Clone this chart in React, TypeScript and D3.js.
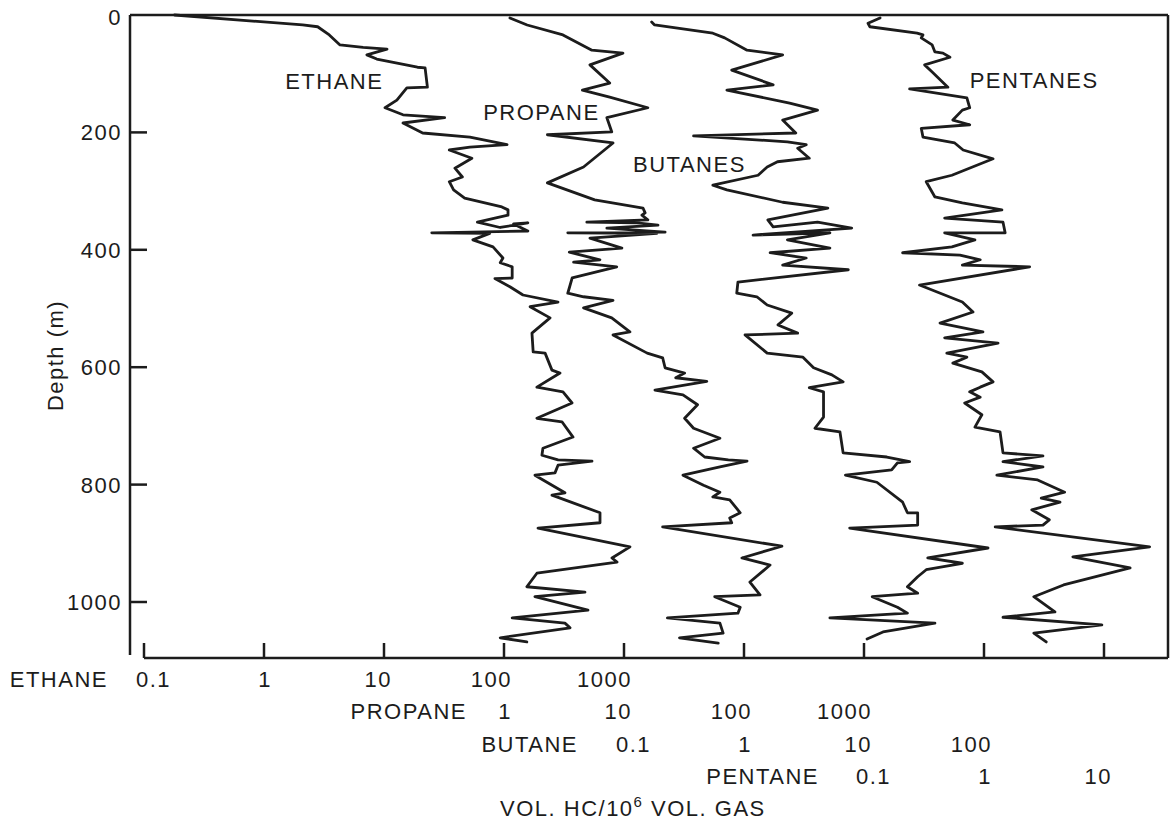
import React, { useEffect, useRef } from 'react';
import * as d3 from 'd3';

// [depth (m), vol. HC / 10^6 vol. gas]
const ethane: [number, number][] = [
  [0, 0.18], [17, 2.1], [20, 2.8], [34, 3.5], [51, 4.3], [55, 6.7], [58, 10.6], [68, 7.2], [75, 8.7],
  [89, 19], [90, 22], [123, 23], [124, 15.5], [145, 12.8], [158, 10.2], [170, 14.4], [175, 32], [184, 14.4],
  [201, 21], [208, 52], [221, 106], [225, 52], [230, 35], [244, 54], [261, 39], [276, 45], [284, 35],
  [298, 38], [312, 47], [327, 96], [332, 108], [341, 108], [353, 60], [362, 93], [354, 158], [356, 120],
  [368, 158], [371, 25], [372, 76], [383, 55], [395, 81], [414, 98], [422, 93], [429, 117], [448, 117],
  [449, 84], [463, 112], [477, 144], [489, 282], [497, 165], [516, 242], [542, 171], [574, 175], [576, 220],
  [605, 251], [610, 293], [634, 188], [642, 310], [661, 369], [687, 188], [693, 304], [719, 376], [738, 211],
  [750, 207], [758, 282], [760, 541], [767, 282], [780, 266], [784, 181], [814, 322], [818, 251], [848, 631],
  [865, 631], [874, 192], [906, 1122], [925, 794], [932, 875], [951, 188], [974, 155], [983, 473], [991, 181],
  [1014, 501], [1027, 117], [1036, 322], [1044, 355], [1061, 93], [1068, 155],
];

const propane: [number, number][] = [
  [5, 1.12], [17, 1.56], [34, 3.1], [60, 5.4], [65, 9.8], [85, 5.2], [116, 7.6], [128, 4.5], [140, 7.6],
  [158, 15.8], [175, 7.2], [199, 7.9], [204, 2.3], [218, 8.1], [259, 4.6], [286, 2.3], [315, 5.7], [329, 14.4],
  [337, 15], [341, 14.1], [349, 15.8], [353, 4.9], [354, 12.8], [358, 19.2], [363, 7.2], [370, 22], [371, 3.4],
  [372, 18.8], [380, 5.2], [397, 9.6], [404, 3.5], [417, 6.3], [421, 3.8], [429, 8.7], [448, 3.7], [474, 3.4],
  [480, 4.6], [486, 8.1], [499, 4.6], [516, 7.9], [540, 11.2], [545, 8.1], [576, 15.6], [584, 21], [601, 22],
  [610, 32], [618, 27], [624, 49], [639, 18.1], [647, 31], [664, 41], [687, 32], [704, 38], [721, 63],
  [738, 38], [753, 47], [758, 74], [760, 106], [770, 63], [784, 31], [801, 46], [813, 63], [821, 55],
  [826, 76], [848, 93], [857, 76], [865, 79], [872, 21], [905, 207], [925, 96], [937, 165], [966, 112],
  [988, 136], [991, 57], [1009, 93], [1019, 89], [1027, 23], [1036, 63], [1053, 67], [1061, 29], [1070, 61],
];

const butane: [number, number][] = [
  [12, 0.17], [17, 0.18], [31, 0.55], [39, 0.69], [60, 1.06], [68, 2.1], [94, 0.79], [119, 1.75], [128, 0.72],
  [150, 2.4], [162, 4.1], [179, 2.1], [201, 2.7], [206, 0.38], [216, 2.3], [221, 3.3], [227, 2.8], [244, 3.5],
  [250, 1.9], [259, 1.56], [273, 1.31], [290, 0.55], [298, 0.72], [319, 2.1], [329, 5.0], [349, 1.58],
  [361, 1.75], [353, 4.1], [363, 7.9], [375, 1.19], [371, 5.2], [383, 2.3], [397, 5.2], [405, 1.65],
  [414, 3.3], [426, 2.1], [434, 7.4], [455, 0.89], [474, 0.87], [480, 1.28], [494, 1.56], [508, 2.5],
  [528, 1.92], [542, 2.8], [545, 1.02], [576, 1.56], [583, 3.1], [601, 3.8], [613, 5.4], [625, 6.7],
  [635, 3.5], [642, 4.6], [685, 4.6], [704, 3.9], [710, 6.3], [746, 6.7], [753, 15.5], [761, 24], [763, 19],
  [775, 17], [784, 7], [796, 12.8], [830, 21], [848, 23], [848, 28], [869, 28], [874, 7.6], [908, 108],
  [925, 34], [934, 66], [945, 33], [957, 28], [974, 23], [985, 28], [991, 11.7], [1009, 19], [1019, 23],
  [1027, 5.2], [1036, 39], [1051, 14.4], [1063, 10.6],
];

const pentane: [number, number][] = [
  [5, 0.136], [14, 0.108], [20, 0.112], [31, 0.277], [34, 0.31], [39, 0.3], [51, 0.37], [63, 0.39],
  [65, 0.455], [72, 0.52], [85, 0.32], [97, 0.37], [123, 0.5], [126, 0.24], [141, 0.72], [158, 0.76],
  [162, 0.66], [179, 0.55], [187, 0.76], [193, 0.3], [208, 0.31], [218, 0.57], [230, 0.67], [245, 1.19],
  [273, 0.54], [284, 0.33], [310, 0.39], [320, 0.66], [332, 1.41], [346, 0.47], [353, 1.44], [371, 1.5],
  [371, 0.47], [383, 0.84], [395, 0.54], [405, 0.21], [409, 0.63], [417, 0.93], [426, 0.66], [429, 2.4],
  [460, 0.29], [489, 0.66], [506, 0.81], [525, 0.43], [540, 0.98], [550, 0.47], [559, 1.31], [576, 0.49],
  [583, 0.72], [593, 0.55], [608, 0.96], [625, 1.19], [634, 0.93], [642, 0.76], [651, 0.93], [661, 0.69],
  [681, 0.96], [702, 0.84], [710, 1.36], [746, 1.44], [751, 3.1], [761, 1.44], [770, 3.1], [784, 1.28],
  [792, 2.8], [813, 4.7], [823, 3.0], [830, 4.3], [843, 2.5], [860, 3.5], [869, 3.1], [872, 1.24],
  [906, 24], [923, 5.5], [942, 16.5], [971, 4.6], [991, 2.6], [1017, 3.9], [1026, 1.44], [1039, 9.6],
  [1053, 2.6], [1068, 3.3],
];

const depthTicks = [0, 200, 400, 600, 800, 1000];
const ethaneTicks = [0.1, 1, 10, 100, 1000];
const propaneTicks = [1, 10, 100, 1000];
const butaneTicks = [0.1, 1, 10, 100];
const pentaneTicks = [0.1, 1, 10];

// curve name labels: [value in that gas's units, depth]
const curveLabels: { text: string; gas: string; at: [number, number] }[] = [
  { text: 'ETHANE', gas: 'ethane', at: [1.5, 126] },
  { text: 'PROPANE', gas: 'propane', at: [0.67, 179] },
  { text: 'BUTANES', gas: 'butane', at: [0.119, 267] },
  { text: 'PENTANES', gas: 'pentane', at: [0.76, 124] },
];

const FONT = '"Liberation Sans", Arial, Helvetica, sans-serif';
const INK = '#1c1c1c';

const App: React.FC = () => {
  const svgRef = useRef<SVGSVGElement>(null);

  useEffect(() => {
    if (!svgRef.current) return;
    const svg = d3.select(svgRef.current);
    svg.selectAll('*').remove();

    const left = 130, right = 1168, top = 15, bottom = 658;
    const x0 = 144, decade = 120;

    const y = d3.scaleLinear().domain([0, 1000]).range([top, 602]);
    // one log scale per gas; they share the pixel decades but are offset
    const mk = (lo: number) => d3.scaleLog().domain([lo, lo * 1e8]).range([x0, x0 + 8 * decade]);
    const scales: Record<string, d3.ScaleLogarithmic<number, number>> = {
      ethane: mk(0.1),
      propane: mk(1e-3),
      butane: mk(1e-5),
      pentane: mk(1e-7),
    };

    const g = svg.append('g')
      .attr('font-family', FONT)
      .attr('font-size', 22)
      .attr('letter-spacing', 1.5)
      .attr('fill', INK);

    // frame
    const frame = g.append('g').attr('stroke', INK).attr('stroke-width', 2.5).attr('fill', 'none');
    frame.append('line').attr('x1', left).attr('x2', left).attr('y1', top).attr('y2', bottom - 3);
    frame.append('line').attr('x1', left).attr('x2', right).attr('y1', top).attr('y2', top);
    frame.append('line').attr('x1', right).attr('x2', right).attr('y1', top).attr('y2', bottom);
    frame.append('line').attr('x1', x0).attr('x2', right).attr('y1', bottom).attr('y2', bottom);

    // bottom decade ticks
    const decades = d3.range(-1, 8).map(p => Math.pow(10, p));
    frame.selectAll('line.xt')
      .data(decades)
      .join('line')
      .attr('class', 'xt')
      .attr('x1', d => scales.ethane(d))
      .attr('x2', d => scales.ethane(d))
      .attr('y1', bottom)
      .attr('y2', bottom - 15);

    // depth ticks + labels
    frame.selectAll('line.yt')
      .data(depthTicks.filter(d => d > 0))
      .join('line')
      .attr('class', 'yt')
      .attr('x1', left)
      .attr('x2', left + 17)
      .attr('y1', d => y(d))
      .attr('y2', d => y(d));

    g.selectAll('text.yl')
      .data(depthTicks)
      .join('text')
      .attr('class', 'yl')
      .attr('x', left - 8)
      .attr('y', d => y(d) + (d === 0 ? 2 : 0))
      .attr('dy', '0.36em')
      .attr('text-anchor', 'end')
      .text(d => String(d));

    g.append('text')
      .attr('transform', `translate(63, ${y(580)}) rotate(-90)`)
      .attr('text-anchor', 'middle')
      .text('Depth (m)');

    // profiles
    const series: [string, [number, number][]][] = [
      ['ethane', ethane], ['propane', propane], ['butane', butane], ['pentane', pentane],
    ];
    series.forEach(([gas, data]) => {
      const line = d3.line<[number, number]>()
        .x(d => scales[gas](d[1]))
        .y(d => y(d[0]));
      g.append('path')
        .datum(data)
        .attr('fill', 'none')
        .attr('stroke', INK)
        .attr('stroke-width', 2.8)
        .attr('stroke-linejoin', 'round')
        .attr('stroke-linecap', 'round')
        .attr('d', line);
    });

    curveLabels.forEach(l => {
      g.append('text')
        .attr('x', scales[l.gas](l.at[0]))
        .attr('y', y(l.at[1]))
        .text(l.text);
    });

    // stacked value axes under the plot
    const rows = [
      { name: 'ETHANE', gas: 'ethane', ticks: ethaneTicks, gap: 36, base: 687 },
      { name: 'PROPANE', gas: 'propane', ticks: propaneTicks, gap: 37, base: 719 },
      { name: 'BUTANE', gas: 'butane', ticks: butaneTicks, gap: 46, base: 752 },
      { name: 'PENTANE', gas: 'pentane', ticks: pentaneTicks, gap: 45, base: 784 },
    ];
    rows.forEach(r => {
      const sc = scales[r.gas];
      g.append('text')
        .attr('x', sc(r.ticks[0]) - r.gap)
        .attr('y', r.base)
        .attr('text-anchor', 'end')
        .text(r.name);
      g.selectAll(null)
        .data(r.ticks)
        .join('text')
        .attr('x', d => (d < 1 ? sc(d) - 8 : sc(d) + 8))
        .attr('y', r.base)
        .attr('text-anchor', d => (d < 1 ? 'start' : 'end'))
        .text(d => String(d));
    });

    const title = g.append('text').attr('x', 500).attr('y', 816);
    title.append('tspan').text('VOL. HC/10');
    title.append('tspan').attr('dy', -9).attr('font-size', 15).text('6');
    title.append('tspan').attr('dy', 9).text(' VOL. GAS');
  }, []);

  return (
    <svg
      ref={svgRef}
      width={1173}
      height={825}
      style={{ position: 'absolute', left: 0, top: 0, background: '#fff' }}
    />
  );
};

export default App;
